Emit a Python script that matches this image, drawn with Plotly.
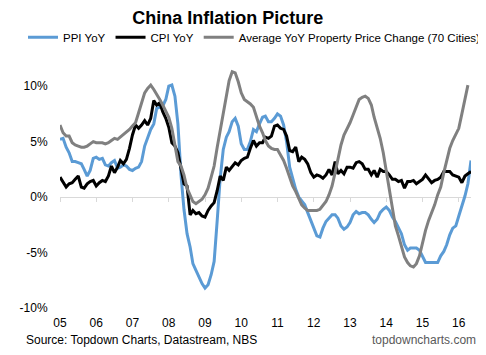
import plotly.graph_objects as go
import pandas as pd

# Monthly data, Jul 2005 onward
ppi = [5.2, 5.3, 4.5, 4.0, 3.2, 3.2,
       3.1, 3.0, 2.5, 1.9, 2.4, 3.5, 3.6, 3.4, 3.5, 2.9, 2.8, 3.1,
       3.3, 2.6, 2.7, 2.9, 2.8, 2.5, 2.4, 2.6, 2.7, 3.2, 4.6, 5.4,
       6.1, 6.6, 8.0, 8.1, 8.2, 8.8, 10.0, 10.1, 9.1, 6.6, 2.0, -1.1,
       -3.3, -4.5, -6.0, -6.6, -7.2, -7.8, -8.2, -7.9, -7.0, -5.8, -2.1, 1.7,
       4.3, 5.4, 5.9, 6.8, 7.1, 6.4, 4.8, 4.3, 4.3, 5.0, 6.1, 5.9,
       6.6, 7.2, 7.3, 6.8, 6.8, 7.1, 7.5, 7.3, 6.5, 5.0, 2.7, 1.7,
       0.7, 0.0, -0.3, -0.7, -1.4, -2.1, -2.9, -3.5, -3.6, -2.8, -2.2, -1.9,
       -1.6, -1.6, -1.9, -2.6, -2.9, -2.7, -2.3, -1.6, -1.3, -1.5, -1.4, -1.4,
       -1.6, -2.0, -2.3, -2.0, -1.4, -1.1, -0.9, -1.2, -1.8, -2.2, -2.7, -3.3,
       -4.3, -4.8, -4.6, -4.6, -4.6, -4.8, -5.4, -5.9, -5.9, -5.9, -5.9, -5.9,
       -5.3, -4.9, -4.3, -3.4, -2.8, -2.6, -1.7, -0.8, 0.1, 1.2, 3.3]

cpi = [1.8, 1.3, 0.9, 1.2, 1.3, 1.6,
       1.9, 0.9, 0.8, 1.2, 1.4, 1.5, 1.0, 1.3, 1.5, 1.4, 1.9, 2.8,
       2.2, 2.7, 3.3, 3.0, 3.4, 4.4, 5.6, 6.5, 6.2, 6.5, 6.9, 6.5,
       7.1, 8.7, 8.3, 8.5, 7.7, 7.1, 6.3, 4.9, 4.6, 4.0, 2.4, 1.2,
       1.0, -1.6, -1.2, -1.5, -1.4, -1.7, -1.8, -1.2, -0.8, -0.5, 0.6, 1.9,
       1.5, 2.7, 2.4, 2.8, 3.1, 2.9, 3.3, 3.5, 3.6, 4.4, 5.1, 4.6,
       4.9, 4.9, 5.4, 5.3, 5.5, 6.4, 6.5, 6.2, 6.1, 5.5, 4.2, 4.1,
       4.5, 3.2, 3.6, 3.4, 3.0, 2.2, 1.8, 2.0, 1.9, 1.7, 2.0, 2.5,
       2.0, 3.2, 2.1, 2.4, 2.1, 2.7, 2.7, 2.6, 3.1, 3.2, 3.0, 2.5,
       2.5, 2.0, 2.4, 1.8, 2.5, 2.3, 2.3, 2.0, 1.6, 1.6, 1.4, 1.5,
       0.8, 1.4, 1.4, 1.5, 1.2, 1.4, 1.6, 2.0, 1.6, 1.3, 1.5, 1.6,
       1.8, 2.3, 2.3, 2.3, 2.0, 1.9, 1.8, 1.3, 1.9, 2.1, 2.3]

prop = [6.5, 5.8, 5.5, 5.5, 4.9, 4.7,
        4.6, 4.5, 4.5, 4.6, 4.8, 5.0, 4.9, 4.9, 4.9, 4.8, 4.9, 5.1,
        5.3, 5.2, 5.4, 5.7, 5.9, 6.1, 6.4, 6.7, 7.6, 8.4, 9.4, 9.8,
        10.1, 9.7, 9.2, 8.8, 8.3, 7.8, 7.2, 6.2, 4.5, 3.2, 2.8, 2.0,
        0.8, 0.2, -0.4, -0.6, -0.4, -0.2, 0.2, 0.8, 1.8, 2.8, 4.5, 6.0,
        7.8, 9.2, 10.5, 11.3, 11.2, 10.4, 9.4, 8.8, 8.6, 8.4, 8.1, 7.3,
        6.4, 5.8, 5.1, 4.6, 4.4, 4.3, 4.3, 3.8, 3.3, 2.6, 1.8, 1.0,
        0.5, -0.2, -0.7, -1.0, -1.2, -1.2, -1.2, -1.2, -1.1, -0.8, -0.4, 0.2,
        1.0, 2.2, 3.5, 4.7, 5.6, 6.1, 6.7, 7.4, 8.2, 8.8, 9.0, 9.1,
        8.9, 8.3, 7.2, 6.2, 5.3, 4.0, 2.3, 0.8, -1.3, -2.6, -3.5, -4.5,
        -5.4, -5.9, -6.2, -6.3, -6.0, -5.3, -4.1, -3.0, -2.1, -1.4, -0.7, 0.2,
        0.9, 2.2, 3.3, 4.4, 5.1, 5.6, 6.2, 7.5, 8.8, 10.1]

year_ticks = ["2005-07-01", "2006-07-01", "2007-07-01", "2008-07-01", "2009-07-01", "2010-07-01",
              "2011-07-01", "2012-07-01", "2013-07-01", "2014-07-01", "2015-07-01", "2016-07-01"]
year_labels = ["05", "06", "07", "08", "09", "10", "11", "12", "13", "14", "15", "16"]
y_ticks = [-10, -5, 0, 5, 10]
y_labels = ["-10%", "-5%", "0%", "5%", "10%"]

dates = pd.date_range("2005-07-01", periods=len(cpi), freq="MS")
dates_prop = dates[:len(prop)]

FONT = "Liberation Sans, Arial, sans-serif"
YMIN, YMAX = -10, 12
XR = [dates[0], dates[-1]]

fig = go.Figure()
fig.add_trace(go.Scatter(x=dates, y=ppi, mode="lines", name="PPI YoY",
                         line=dict(color="#5B9BD5", width=3)))
fig.add_trace(go.Scatter(x=dates, y=cpi, mode="lines", name="CPI YoY",
                         line=dict(color="#000000", width=3)))
fig.add_trace(go.Scatter(x=dates_prop, y=prop, mode="lines", xaxis="x2",
                         name="Average YoY Property Price Change (70 Cities)",
                         line=dict(color="#808080", width=3)))

fig.update_layout(
    width=478, height=347,
    margin=dict(l=42, r=15, t=56, b=47),
    paper_bgcolor="white", plot_bgcolor="white",
    font=dict(family=FONT, size=12, color="#000000"),
    title=dict(text="<b>China Inflation Picture</b>", x=0.460, xref="container", xanchor="center",
               y=0.972, yref="container", yanchor="middle", font=dict(size=18, color="#000000")),
    legend=dict(orientation="h", x=-0.085, xanchor="left", y=1.11, yanchor="middle",
                font=dict(size=11.5), bgcolor="rgba(0,0,0,0)", tracegroupgap=0, itemwidth=30),
    xaxis=dict(type="date", range=XR, tickvals=year_ticks, ticktext=year_labels,
               showgrid=False, showline=False, zeroline=False,
               ticks="outside", ticklen=4, tickcolor="rgba(0,0,0,0)",
               tickfont=dict(size=12, color="#000000")),
    xaxis2=dict(type="date", matches="x", overlaying="x", anchor="free",
                position=(0 - YMIN) / (YMAX - YMIN),
                tickvals=year_ticks, showticklabels=False, showgrid=False, zeroline=False,
                showline=False, ticks="outside", ticklen=4, tickcolor="#D9D9D9", tickwidth=1),
    yaxis=dict(range=[YMIN, YMAX], tickvals=y_ticks, ticktext=y_labels,
               showgrid=False, zeroline=True, zerolinecolor="#D9D9D9", zerolinewidth=1,
               showline=False, ticks="outside", ticklen=9, tickcolor="rgba(0,0,0,0)",
               tickfont=dict(size=12, color="#000000")),
    annotations=[
        dict(text="Source: Topdown Charts, Datastream, NBS", xref="paper", yref="paper",
             x=-0.088, y=-0.131, xanchor="left", yanchor="middle", showarrow=False,
             font=dict(size=12, color="#000000")),
        dict(text="topdowncharts.com", xref="paper", yref="paper",
             x=1.0166, y=-0.131, xanchor="right", yanchor="middle", showarrow=False,
             font=dict(size=12, color="#595959")),
    ],
)

fig.write_html("out.html")
